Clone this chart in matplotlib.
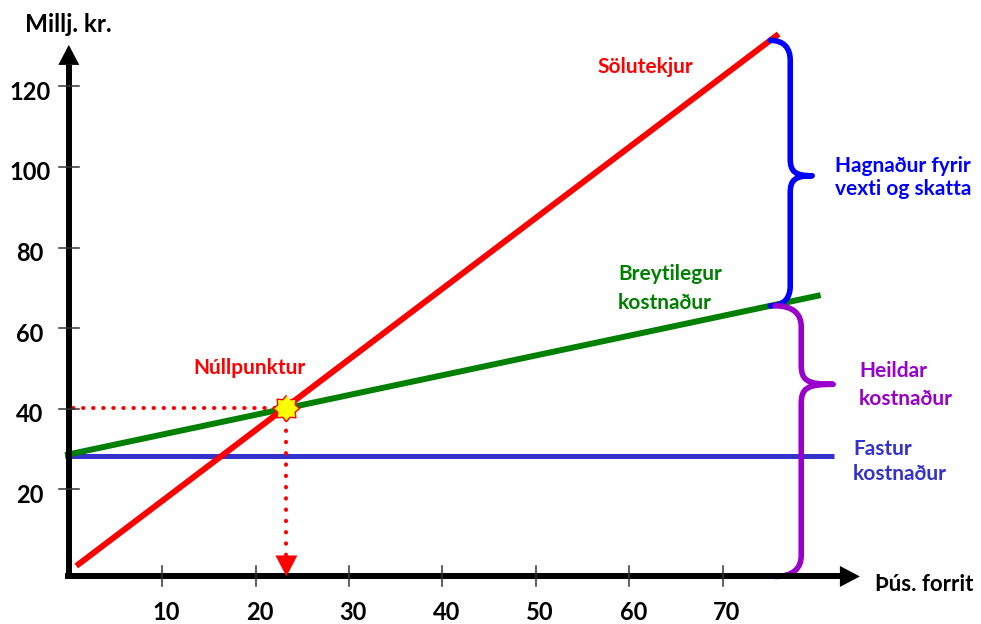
import numpy as np
import matplotlib
matplotlib.use('Agg')
import matplotlib.pyplot as plt
from matplotlib.path import Path
from matplotlib.patches import PathPatch, Polygon

plt.rcParams['font.family'] = ['Lato', 'DejaVu Sans']
plt.rcParams['font.weight'] = 'bold'

# data (x: thousand programs, y: million kr.)
x_ticks = [10, 20, 30, 40, 50, 60, 70]
y_ticks = [20, 40, 60, 80, 100, 120]
revenue_x = [0.8, 76.0]
revenue_y = [1.0, 133.0]
variable_x = [-0.4, 80.5]
variable_y = [28.5, 68.2]
fixed_x = [-0.4, 81.9]
fixed_y = [28.4, 28.4]
breakeven = (23.3, 40.3)
brace_at = 75.1

# pixel scale of the original drawing
X0PX, SX = 68.8, 9.34
Y0PX, SY = 570.0, 4.03
W, H = 981, 624


def dx(p):
    return p / SX


def dy(p):
    return p / SY


def to_data(px, py):
    return (px - X0PX) / SX, (Y0PX - py) / SY


def brace(ax, x, y_top, y_bot, color, spine=20, tip=22, frac=0.5, r=20, rt=17):
    # build the curly brace in pixel space, then map to data
    px0 = X0PX + x * SX
    t = Y0PX - y_top * SY
    b = Y0PX - y_bot * SY
    xs = px0 + spine
    xt = xs + tip
    m = t + frac * (b - t)
    pts = [
        (px0, t), (px0 + 0.7 * spine, t), (xs, t + 0.4 * r), (xs, t + r),
        (xs, m - rt),
        (xs, m - 4), (xs + 5, m), (xt, m),
        (xs + 5, m), (xs, m + 4), (xs, m + rt),
        (xs, b - r),
        (xs, b - 0.4 * r), (px0 + 0.7 * spine, b), (px0, b),
    ]
    codes = [Path.MOVETO, Path.CURVE4, Path.CURVE4, Path.CURVE4,
             Path.LINETO,
             Path.CURVE4, Path.CURVE4, Path.CURVE4,
             Path.CURVE4, Path.CURVE4, Path.CURVE4,
             Path.LINETO,
             Path.CURVE4, Path.CURVE4, Path.CURVE4]
    verts = [to_data(a, c) for a, c in pts]
    ax.add_patch(PathPatch(Path(verts, codes), fill=False, edgecolor=color,
                           lw=4.0, capstyle='round', joinstyle='round', zorder=4))


def triangle(ax, tip, direction, length, width, color):
    tx, ty = tip
    if direction == 'up':
        pts = [(tx, ty), (tx - dx(width / 2), ty - dy(length)), (tx + dx(width / 2), ty - dy(length))]
    elif direction == 'right':
        pts = [(tx, ty), (tx - dx(length), ty + dy(width / 2)), (tx - dx(length), ty - dy(width / 2))]
    else:
        pts = [(tx, ty), (tx - dx(width / 2), ty + dy(length)), (tx + dx(width / 2), ty + dy(length))]
    ax.add_patch(Polygon(pts, closed=True, color=color, lw=0, zorder=6))


fig = plt.figure(figsize=(W / 100, H / 100), dpi=100)
ax = fig.add_axes([0, 0, 1, 1])
ax.set_xlim(-X0PX / SX, (W - X0PX) / SX)
ax.set_ylim((Y0PX - H) / SY, Y0PX / SY)
ax.axis('off')

# axes with arrows
axis_y = -1.6
x_end, y_end = 84.7, 130.3
ax.plot([dx(-4), x_end - dx(20)], [axis_y, axis_y], color='black', lw=4.3, solid_capstyle='butt', zorder=5)
ax.plot([0, 0], [axis_y - dy(3), y_end - dy(20)], color='black', lw=4.3, solid_capstyle='butt', zorder=5)
triangle(ax, (x_end, axis_y), 'right', 20, 21, 'black')
triangle(ax, (0, y_end), 'up', 20, 21, 'black')

for v in x_ticks:
    ax.plot([v, v], [axis_y - dy(10), axis_y + dy(10)], color='#333333', lw=1.1, zorder=5)
    ax.text(v + dx(4), axis_y - dy(36), str(v), ha='center', va='center', fontsize=17, color='black')
for v in y_ticks:
    ax.plot([-dx(10), dx(10)], [v, v], color='#333333', lw=1.1, zorder=5)
    ax.text(-dx(39), v - dy(6), str(v), ha='center', va='center', fontsize=17, color='black')

ax.text(-dx(44), Y0PX / SY - dy(32), 'Millj. kr.', ha='left', va='baseline', fontsize=17.5, color='black')
ax.text(dx(875 - X0PX), axis_y - dy(15), 'Þús. forrit', ha='left', va='baseline', fontsize=16, color='black')

# cost and revenue lines
ax.plot(fixed_x, fixed_y, color='#3333CC', lw=3.6, solid_capstyle='butt', zorder=2)
ax.plot(variable_x, variable_y, color='#008000', lw=4.3, solid_capstyle='butt', zorder=3)
ax.plot(revenue_x, revenue_y, color='#FF0000', lw=4.3, solid_capstyle='butt', zorder=3)

# break-even guides
bx, by = breakeven
ax.plot([dx(4), bx], [by, by], color='#FF0000', lw=2.9, linestyle=(0, (0.1, 2.4)),
        dash_capstyle='round', zorder=4)
ax.plot([bx, bx], [by, dy(13)], color='#FF0000', lw=2.9, linestyle=(0, (0.1, 2.7)),
        dash_capstyle='round', zorder=4)
triangle(ax, (bx, axis_y), 'down', 21, 22, '#FF0000')
ang = np.linspace(0, 2 * np.pi, 17)[:-1] + np.pi / 2
rad = np.where(np.arange(16) % 2 == 0, 1.0, 0.72)
star = np.column_stack([rad * np.cos(ang), rad * np.sin(ang)])
ax.plot([bx], [by], marker=star, markersize=19, markerfacecolor='#FFFF00',
        markeredgecolor='#FF0000', markeredgewidth=1, zorder=7)

# braces
top = np.interp(brace_at, revenue_x, revenue_y)
mid = np.interp(brace_at, variable_x, variable_y)
brace(ax, brace_at, top, mid, '#0000FF', spine=20, tip=22, frac=0.51, r=20, rt=17)
brace(ax, brace_at + dx(5), mid, axis_y, '#9900CC', spine=26, tip=32, frac=0.29, r=21, rt=20)

# labels
def label(px, py, s, color):
    x, y = to_data(px, py)
    ax.text(x, y, s, ha='left', va='baseline', fontsize=15, color=color)

label(597, 73, 'Sölutekjur', '#FF0000')
label(193, 374, 'Núllpunktur', '#FF0000')
label(618, 280, 'Breytilegur', '#008000')
label(618, 309, 'kostnaður', '#008000')
label(835, 172, 'Hagnaður fyrir', '#0000FF')
label(835, 195, 'vexti og skatta', '#0000FF')
label(859, 377, 'Heildar', '#9900CC')
label(859, 405, 'kostnaður', '#9900CC')
label(853, 455, 'Fastur', '#3333CC')
label(853, 480, 'kostnaður', '#3333CC')

fig.savefig('out.png', dpi=100)
